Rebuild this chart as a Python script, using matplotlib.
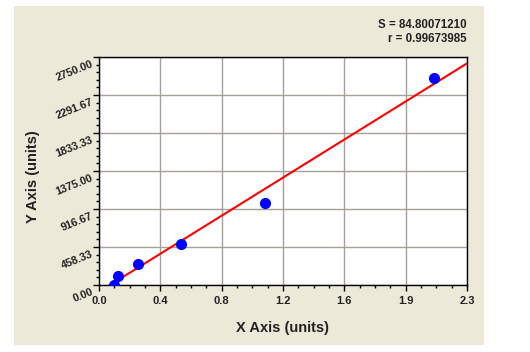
import numpy as np
import matplotlib
matplotlib.use("Agg")
import matplotlib.pyplot as plt
from matplotlib.patches import Rectangle
from matplotlib.transforms import ScaledTranslation
from matplotlib.ticker import AutoMinorLocator

plt.rcParams["font.family"] = ["Liberation Sans", "DejaVu Sans"]

# data
x_vals = [0.096, 0.121, 0.242, 0.511, 1.038, 2.096]
y_vals = [5, 112, 250, 494, 993, 2500]
fit_slope = 1198.0
fit_intercept = -82.6
x_ticks = np.linspace(0, 2.3, 7)
x_tick_labels = ["0.0", "0.4", "0.8", "1.2", "1.6", "1.9", "2.3"]
y_ticks = np.linspace(0, 2750, 7)
y_tick_labels = ["0.00", "458.33", "916.67", "1375.00", "1833.33", "2291.67", "2750.00"]
stats = ["S = 84.80071210", "r = 0.99673985"]

bg = "#ece9d8"

fig = plt.figure(figsize=(5.3, 3.52), dpi=100)
fig.patch.set_facecolor("white")
fig.patches.append(Rectangle((14 / 530, 7 / 352), 470 / 530, 339 / 352,
                             transform=fig.transFigure, facecolor=bg,
                             edgecolor="none", zorder=-10))

ax = fig.add_axes([99 / 530, 1 - 285 / 352, 368 / 530, 228 / 352])
ax.set_zorder(1)
ax.set_facecolor("white")

xs = np.array([0, 2.3])
ax.plot(xs, fit_slope * xs + fit_intercept, color="#ff0000", lw=1.5, zorder=3)
ax.plot(x_vals, y_vals, "o", color="#0000ff", ms=7, zorder=4)

ax.set_xlim(0, 2.3)
ax.set_ylim(0, 2750)
ax.set_xticks(x_ticks)
ax.set_xticklabels(x_tick_labels, fontsize=8, fontweight="bold", color="#222222")
ax.set_yticks(y_ticks)
ax.set_yticklabels(y_tick_labels, fontsize=7.8, fontweight="bold", color="#222222")
ax.xaxis.set_minor_locator(AutoMinorLocator(4))
ax.yaxis.set_minor_locator(AutoMinorLocator(5))
ax.tick_params(which="major", direction="out", length=4, width=1, color="black")
ax.tick_params(which="minor", direction="out", length=2.5, width=1, color="black")
ax.tick_params(axis="x", pad=4)
ax.tick_params(axis="y", pad=2)

off = ScaledTranslation(0, -2 / 100, fig.dpi_scale_trans)
for lbl in ax.get_yticklabels():
    lbl.set_rotation(22)
    lbl.set_rotation_mode("anchor")
    lbl.set_ha("right")
    lbl.set_va("top")
    lbl.set_transform(lbl.get_transform() + off)

ax.grid(True, which="major", color="#a4a098", lw=1)
ax.set_axisbelow(True)
for sp in ax.spines.values():
    sp.set_color("black")
    sp.set_linewidth(1)

ax.set_xlabel("X Axis (units)", fontsize=10.5, fontweight="bold", color="#222222")
ax.set_ylabel("Y Axis (units)", fontsize=10.5, fontweight="bold", color="#222222")
ax.xaxis.set_label_coords(0.5, -(321 - 285) / 228)
ax.yaxis.set_label_coords(-(99 - 40) / 368, (285 - 177) / 228)

fig.text(467 / 530, 1 - 25 / 352, stats[0], ha="right", va="center",
         fontsize=8.3, fontweight="bold", color="#222222")
fig.text(467 / 530, 1 - 39 / 352, stats[1], ha="right", va="center",
         fontsize=8.3, fontweight="bold", color="#222222")

fig.savefig("out.png", dpi=100, facecolor=fig.get_facecolor())
